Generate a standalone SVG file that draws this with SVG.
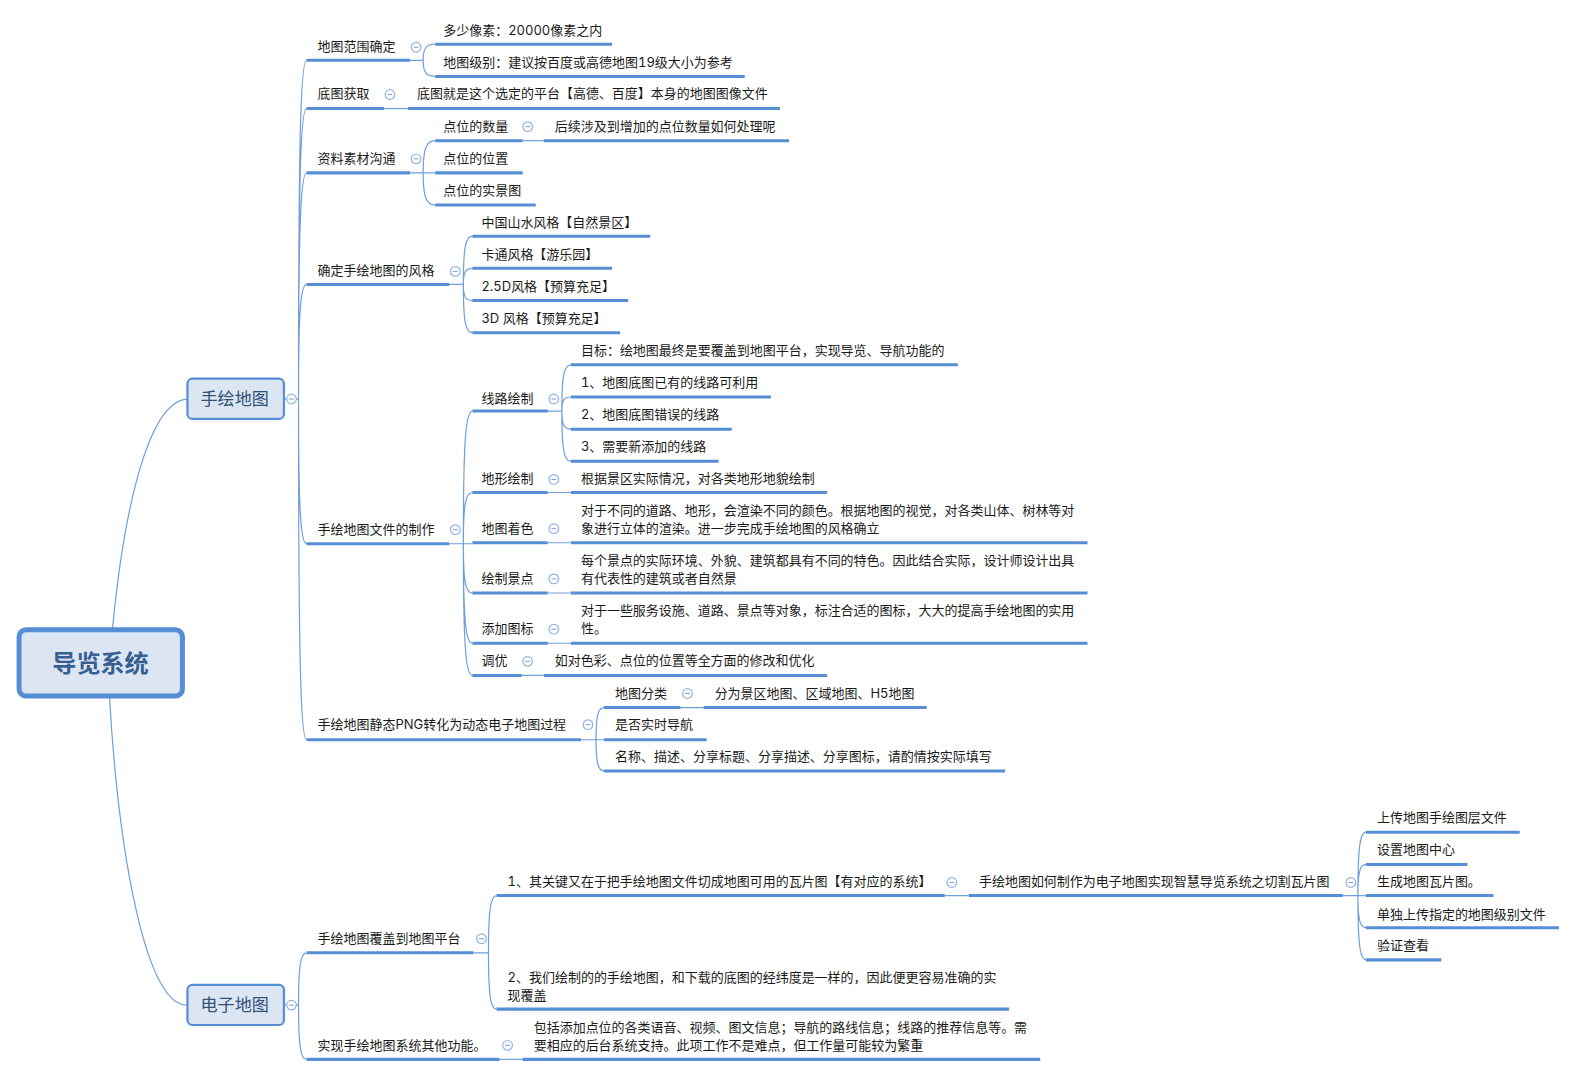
<svg xmlns="http://www.w3.org/2000/svg" width="1576" height="1076" viewBox="0 0 1576 1076">
<style>
text{font-family:"Inter","Noto Sans CJK SC",sans-serif;font-size:12.93px;fill:#1a1a1a;font-variant-numeric:tabular-nums}
.u{stroke:#558ed5;stroke-width:3;fill:none}
.c{stroke:#6f9fdc;stroke-width:1.2;fill:none}
.box{fill:#dce6f2;stroke:#558ed5;stroke-width:2.2}
.root{fill:#dce6f2;stroke:#558ed5;stroke-width:5}
.bt{font-size:17px;fill:#2f5078;text-anchor:middle}
.rt{font-size:24px;font-weight:700;fill:#376092;text-anchor:middle}
</style>
<defs>
<g id="t"><circle r="4.8" fill="#fff" stroke="#8fb4e3" stroke-width="1.2"/><path d="M-2.5 0H2.5" stroke="#7f9fc9" stroke-width="1"/></g>
</defs>
<rect width="1576" height="1076" fill="#fff"/>
<g id="diagram" transform="scale(1.0051)">
<g id="connectors" class="c">
<path class="c" d="M112 625C122 520 145 400 186 397"/>
<path class="c" d="M109 694C118 850 145 1000 186 1000"/>
<path class="c" d="M283 397H297M297 397C297 144 299 60 305 60M297 397C297 180 299 108 305 108M297 397C297 228 299 172 305 172M297 397C297 311 299 283 305 283M297 397C297 505 299 541 305 541M297 397C297 651 299 736 305 736"/>
<path class="c" d="M283 1000H297M297 1000C297 961 299 948 305 948M297 1000C297 1040 299 1054 305 1054"/>
<path class="c" d="M408 60H421M421 60C421 48 424 44 433 44M421 60C421 72 424 76 433 76"/>
<path class="c" d="M382 108H406"/>
<path class="c" d="M408 172H433M421 172C421 148 424 140 433 140M421 172C421 196 424 204 433 204M520 140H541"/>
<path class="c" d="M447 283H461M461 283C461 247 463 235 470 235M461 283C461 271 463 267 470 267M461 283C461 295 463 299 470 299M461 283C461 319 463 331 470 331"/>
<path class="c" d="M447 541H470M461 541C461 442 463 409 470 409M461 541C461 503 463 490 470 490M461 541C461 578 463 590 470 590M461 541C461 615 463 640 470 640M461 541C461 639 463 672 470 672"/>
<path class="c" d="M545 409H559M559 409C559 374 561 363 568 363M559 409C559 398 561 395 568 395M559 409C559 422 561 427 568 427M559 409C559 447 561 459 568 459"/>
<path class="c" d="M545 490H568M545 540H568M545 590H568M545 640H568M519 672H541"/>
<path class="c" d="M578 736H601M593 736C593 712 595 704 601 704M593 736C593 759 595 767 601 767M677 704H700"/>
<path class="c" d="M471 948H486M486 948C486 905 488 891 494 891M486 948C486 990 488 1004 494 1004M940 891H964M497 1054H520"/>
<path class="c" d="M1336 891H1359M1351 891C1351 844 1353 828 1359 828M1351 891C1351 868 1353 860 1359 860M1351 891C1351 915 1353 923 1359 923M1351 891C1351 939 1353 955 1359 955"/>
</g>
<g id="root"><rect class="root" x="19" y="626.500" width="162.500" height="66" rx="7"/><text class="rt" x="100" y="669">导览系统</text></g>
<g id="b1"><rect class="box" x="186.500" y="376.800" width="96" height="40" rx="5"/><text class="bt" x="233.500" y="403">手绘地图</text><use href="#t" x="290" y="397"/></g>
<g id="b2"><rect class="box" x="186.500" y="979.800" width="96" height="40" rx="5"/><text class="bt" x="233.500" y="1006">电子地图</text><use href="#t" x="290" y="1000"/></g>

<g id="n1"><path class="u" d="M305 60H408"/><text x="316" y="51">地图范围确定</text><use href="#t" x="414" y="47"/></g>
<g id="n1a"><path class="u" d="M433 44H609"/><text x="441" y="35">多少像素：20000像素之内</text></g>
<g id="n1b"><path class="u" d="M433 76H741"/><text x="441" y="67">地图级别：建议按百度或高德地图19级大小为参考</text></g>
<g id="n2"><path class="u" d="M305 108H382"/><text x="316" y="98">底图获取</text><use href="#t" x="388" y="94"/></g>
<g id="n2a"><path class="u" d="M406 108H776"/><text x="415" y="98">底图就是这个选定的平台【高德、百度】本身的地图图像文件</text></g>
<g id="n3"><path class="u" d="M305 172H408"/><text x="316" y="162">资料素材沟通</text><use href="#t" x="414" y="158"/></g>
<g id="n3a"><path class="u" d="M433 140H520"/><text x="441" y="130">点位的数量</text><use href="#t" x="525" y="126"/></g>
<g id="n3a1"><path class="u" d="M541 140H785"/><text x="552" y="130">后续涉及到增加的点位数量如何处理呢</text></g>
<g id="n3b"><path class="u" d="M433 172H520"/><text x="441" y="162">点位的位置</text></g>
<g id="n3c"><path class="u" d="M433 204H533"/><text x="441" y="194">点位的实景图</text></g>
<g id="n4"><path class="u" d="M305 283H447"/><text x="316" y="274">确定手绘地图的风格</text><use href="#t" x="453" y="270"/></g>
<g id="n4a"><path class="u" d="M470 235H647"/><text x="479" y="226">中国山水风格【自然景区】</text></g>
<g id="n4b"><path class="u" d="M470 267H609"/><text x="479" y="258">卡通风格【游乐园】</text></g>
<g id="n4c"><path class="u" d="M470 299H625"/><text x="479" y="290">2.5D风格【预算充足】</text></g>
<g id="n4d"><path class="u" d="M470 331H617"/><text x="479" y="321">3D 风格【预算充足】</text></g>
<g id="n5"><path class="u" d="M305 541H447"/><text x="316" y="531">手绘地图文件的制作</text><use href="#t" x="453" y="527"/></g>
<g id="n5a"><path class="u" d="M470 409H545"/><text x="479" y="401">线路绘制</text><use href="#t" x="551" y="397"/></g>
<g id="n5a1"><path class="u" d="M568 363H953"/><text x="578" y="353">目标：绘地图最终是要覆盖到地图平台，实现导览、导航功能的</text></g>
<g id="n5a2"><path class="u" d="M568 395H767"/><text x="578" y="385">1、地图底图已有的线路可利用</text></g>
<g id="n5a3"><path class="u" d="M568 427H728"/><text x="578" y="417">2、地图底图错误的线路</text></g>
<g id="n5a4"><path class="u" d="M568 459H715"/><text x="578" y="449">3、需要新添加的线路</text></g>
<g id="n5b"><path class="u" d="M470 490H545"/><text x="479" y="481">地形绘制</text><use href="#t" x="551" y="477"/></g>
<g id="n5b1"><path class="u" d="M568 490H823"/><text x="578" y="481">根据景区实际情况，对各类地形地貌绘制</text></g>
<g id="n5c"><path class="u" d="M470 540H545"/><text x="479" y="530">地图着色</text><use href="#t" x="551" y="526"/></g>
<g id="n5c1"><path class="u" d="M568 540H1082"/><text x="578" y="512">对于不同的道路、地形，会渲染不同的颜色。根据地图的视觉，对各类山体、树林等对</text><text x="578" y="530">象进行立体的渲染。进一步完成手绘地图的风格确立</text></g>
<g id="n5d"><path class="u" d="M470 590H545"/><text x="479" y="580">绘制景点</text><use href="#t" x="551" y="576"/></g>
<g id="n5d1"><path class="u" d="M568 590H1082"/><text x="578" y="562">每个景点的实际环境、外貌、建筑都具有不同的特色。因此结合实际，设计师设计出具</text><text x="578" y="580">有代表性的建筑或者自然景</text></g>
<g id="n5e"><path class="u" d="M470 640H545"/><text x="479" y="630">添加图标</text><use href="#t" x="551" y="626"/></g>
<g id="n5e1"><path class="u" d="M568 640H1082"/><text x="578" y="612">对于一些服务设施、道路、景点等对象，标注合适的图标，大大的提高手绘地图的实用</text><text x="578" y="630">性。</text></g>
<g id="n5f"><path class="u" d="M470 672H519"/><text x="479" y="662">调优</text><use href="#t" x="525" y="658"/></g>
<g id="n5f1"><path class="u" d="M541 672H823"/><text x="552" y="662">如对色彩、点位的位置等全方面的修改和优化</text></g>
<g id="n6"><path class="u" d="M305 736H578"/><text x="316" y="725">手绘地图静态PNG转化为动态电子地图过程</text><use href="#t" x="585" y="721"/></g>
<g id="n6a"><path class="u" d="M601 704H677"/><text x="612" y="694">地图分类</text><use href="#t" x="684" y="690"/></g>
<g id="n6a1"><path class="u" d="M700 704H922"/><text x="711" y="694">分为景区地图、区域地图、H5地图</text></g>
<g id="n6b"><path class="u" d="M601 736H703"/><text x="612" y="725">是否实时导航</text></g>
<g id="n6c"><path class="u" d="M601 767H1000"/><text x="612" y="757">名称、描述、分享标题、分享描述、分享图标，请酌情按实际填写</text></g>
<g id="e1"><path class="u" d="M305 948H471"/><text x="316" y="938">手绘地图覆盖到地图平台</text><use href="#t" x="479" y="934"/></g>
<g id="e1a"><path class="u" d="M494 891H940"/><text x="505" y="882">1、其关键又在于把手绘地图文件切成地图可用的瓦片图【有对应的系统】</text><use href="#t" x="947" y="878"/></g>
<g id="e1a1"><path class="u" d="M964 891H1336"/><text x="974" y="882">手绘地图如何制作为电子地图实现智慧导览系统之切割瓦片图</text><use href="#t" x="1344" y="878"/></g>
<g id="l1"><path class="u" d="M1359 828H1512"/><text x="1370" y="818">上传地图手绘图层文件</text></g>
<g id="l2"><path class="u" d="M1359 860H1460"/><text x="1370" y="850">设置地图中心</text></g>
<g id="l3"><path class="u" d="M1359 891H1486"/><text x="1370" y="882">生成地图瓦片图。</text></g>
<g id="l4"><path class="u" d="M1359 923H1551"/><text x="1370" y="914">单独上传指定的地图级别文件</text></g>
<g id="l5"><path class="u" d="M1359 955H1434"/><text x="1370" y="945">验证查看</text></g>
<g id="e1b"><path class="u" d="M494 1004H1004"/><text x="505" y="977">2、我们绘制的的手绘地图，和下载的底图的经纬度是一样的，因此便更容易准确的实</text><text x="505" y="995">现覆盖</text></g>
<g id="e2"><path class="u" d="M305 1054H497"/><text x="316" y="1045">实现手绘地图系统其他功能。</text><use href="#t" x="505" y="1040"/></g>
<g id="e2a"><path class="u" d="M520 1054H1035"/><text x="531" y="1027">包括添加点位的各类语音、视频、图文信息；导航的路线信息；线路的推荐信息等。需</text><text x="531" y="1045">要相应的后台系统支持。此项工作不是难点，但工作量可能较为繁重</text></g>
</g>
</svg>
